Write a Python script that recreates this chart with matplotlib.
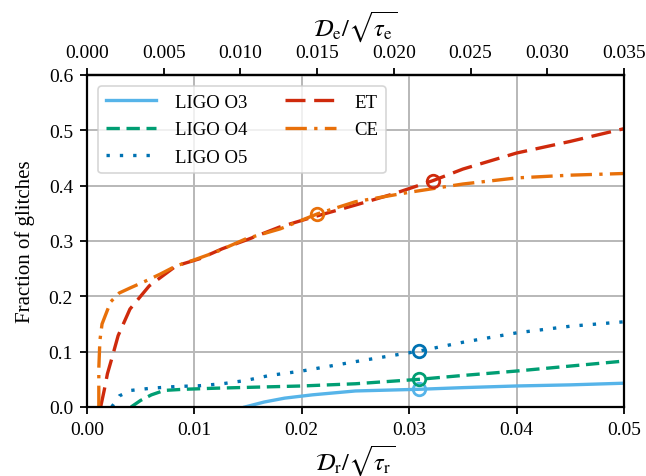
import matplotlib
matplotlib.use("Agg")
import matplotlib.pyplot as plt

plt.rcParams['font.family'] = ['Liberation Serif', 'DejaVu Serif']
plt.rcParams['mathtext.fontset'] = 'stix'
plt.rcParams['font.size'] = 14

# ---- data ----
o3_x = [0.0147, 0.0165, 0.0184, 0.021, 0.025, 0.0309, 0.035, 0.04, 0.045, 0.05]
o3_y = [0.0, 0.009, 0.016, 0.022, 0.029, 0.032, 0.035, 0.038, 0.040, 0.043]

o4_x = [0.0041, 0.005, 0.006, 0.0072, 0.009, 0.012, 0.016, 0.02, 0.025, 0.0309, 0.035, 0.04, 0.045, 0.05]
o4_y = [0.0, 0.012, 0.022, 0.030, 0.032, 0.034, 0.036, 0.038, 0.042, 0.050, 0.057, 0.065, 0.074, 0.083]

o5_x = [0.0023, 0.003, 0.0041, 0.006, 0.0083, 0.0105, 0.0126, 0.0148, 0.017, 0.02, 0.025, 0.0309, 0.035, 0.04, 0.045, 0.05]
o5_y = [0.0, 0.020, 0.030, 0.034, 0.037, 0.0385, 0.042, 0.048, 0.057, 0.065, 0.082, 0.101, 0.117, 0.134, 0.146, 0.154]

et_x = [0.00127, 0.0016, 0.0019, 0.0023, 0.0029, 0.004, 0.0058, 0.0083, 0.0105, 0.0126, 0.015, 0.0179, 0.021, 0.025, 0.0285, 0.0322, 0.035, 0.04, 0.045, 0.05]
et_y = [0.0, 0.030, 0.060, 0.087, 0.129, 0.177, 0.219, 0.255, 0.268, 0.286, 0.303, 0.325, 0.343, 0.365, 0.385, 0.409, 0.430, 0.459, 0.480, 0.503]

ce_x = [0.0011, 0.0011, 0.0012, 0.0014, 0.0017, 0.0022, 0.003, 0.004, 0.0055, 0.0068, 0.0083, 0.01, 0.012, 0.0148, 0.018, 0.02145, 0.025, 0.03, 0.035, 0.04, 0.045, 0.05]
ce_y = [0.0, 0.070, 0.120, 0.150, 0.165, 0.190, 0.206, 0.215, 0.228, 0.240, 0.255, 0.266, 0.280, 0.304, 0.322, 0.349, 0.371, 0.388, 0.403, 0.414, 0.419, 0.422]

labels = ['LIGO O3', 'LIGO O4', 'LIGO O5', 'ET', 'CE']
colors = ['#56B4E9', '#009E73', '#0072B2', '#CF2A0C', '#E8700A']

marker_x = [0.0309, 0.0309, 0.0309, 0.0322, 0.02145]
marker_y = [0.032, 0.050, 0.101, 0.409, 0.349]

xticks_bottom = [0.00, 0.01, 0.02, 0.03, 0.04, 0.05]
yticks = [0.0, 0.1, 0.2, 0.3, 0.4, 0.5, 0.6]
xticks_top = [0.000, 0.005, 0.010, 0.015, 0.020, 0.025, 0.030, 0.035]
scale_top = 0.7

# ---- figure ----
fig = plt.figure(figsize=(6.46, 4.77), dpi=100)
ax = fig.add_axes([87/646, 1-408/477, (624-87)/646, (408-76)/477])

lw = 2.4
ax.plot(o3_x, o3_y, color=colors[0], lw=lw, ls='-', label=labels[0])
ax.plot(o4_x, o4_y, color=colors[1], lw=lw, dashes=(4, 2), label=labels[1])
ax.plot(o5_x, o5_y, color=colors[2], lw=lw, dashes=(1, 3), label=labels[2])
ax.plot(et_x, et_y, color=colors[3], lw=lw, dashes=(6, 2.6), label=labels[3])
ax.plot(ce_x, ce_y, color=colors[4], lw=lw, dashes=(6.4, 2.2, 1, 2.2), label=labels[4])

for mx, my, c in zip(marker_x, marker_y, colors):
    ax.plot([mx], [my], 'o', ms=9, mfc='none', mec=c, mew=2)

ax.set_xlim(0, 0.05)
ax.set_ylim(0, 0.6)
ax.set_xticks(xticks_bottom)
ax.set_xticklabels([f'{v:.2f}' for v in xticks_bottom])
ax.set_yticks(yticks)
ax.set_yticklabels([f'{v:.1f}' for v in yticks])
ax.grid(True, color='#b8b8b8', lw=1.4)
ax.set_axisbelow(True)
for s in ax.spines.values():
    s.set_linewidth(1.6)
ax.tick_params(direction='out', length=5, width=1.3, labelsize=14, pad=5)

ax.set_xlabel(r'$\mathcal{D}_{\rm r}/\sqrt{\tau_{\rm r}}$', fontsize=17.5, labelpad=3)
ax.set_ylabel('Fraction of glitches', fontsize=15, labelpad=10)

top = ax.secondary_xaxis('top', functions=(lambda x: x * scale_top, lambda x: x / scale_top))
top.set_xticks(xticks_top)
top.set_xticklabels([f'{v:.3f}' for v in xticks_top])
top.tick_params(direction='out', length=5, width=1.3, labelsize=14, pad=5)
top.spines['top'].set_linewidth(1.6)
top.set_xlabel(r'$\mathcal{D}_{\rm e}/\sqrt{\tau_{\rm e}}$', fontsize=17.5, labelpad=7)

leg = ax.legend(loc='upper left', ncol=2, fontsize=13.5, frameon=True, fancybox=True,
                framealpha=0.8, edgecolor='#cccccc', handlelength=2.7,
                columnspacing=2.0, borderaxespad=0.6, labelspacing=0.55,
                handletextpad=1.0)
leg.get_frame().set_linewidth(1.2)

fig.savefig('out.png', dpi=100)
